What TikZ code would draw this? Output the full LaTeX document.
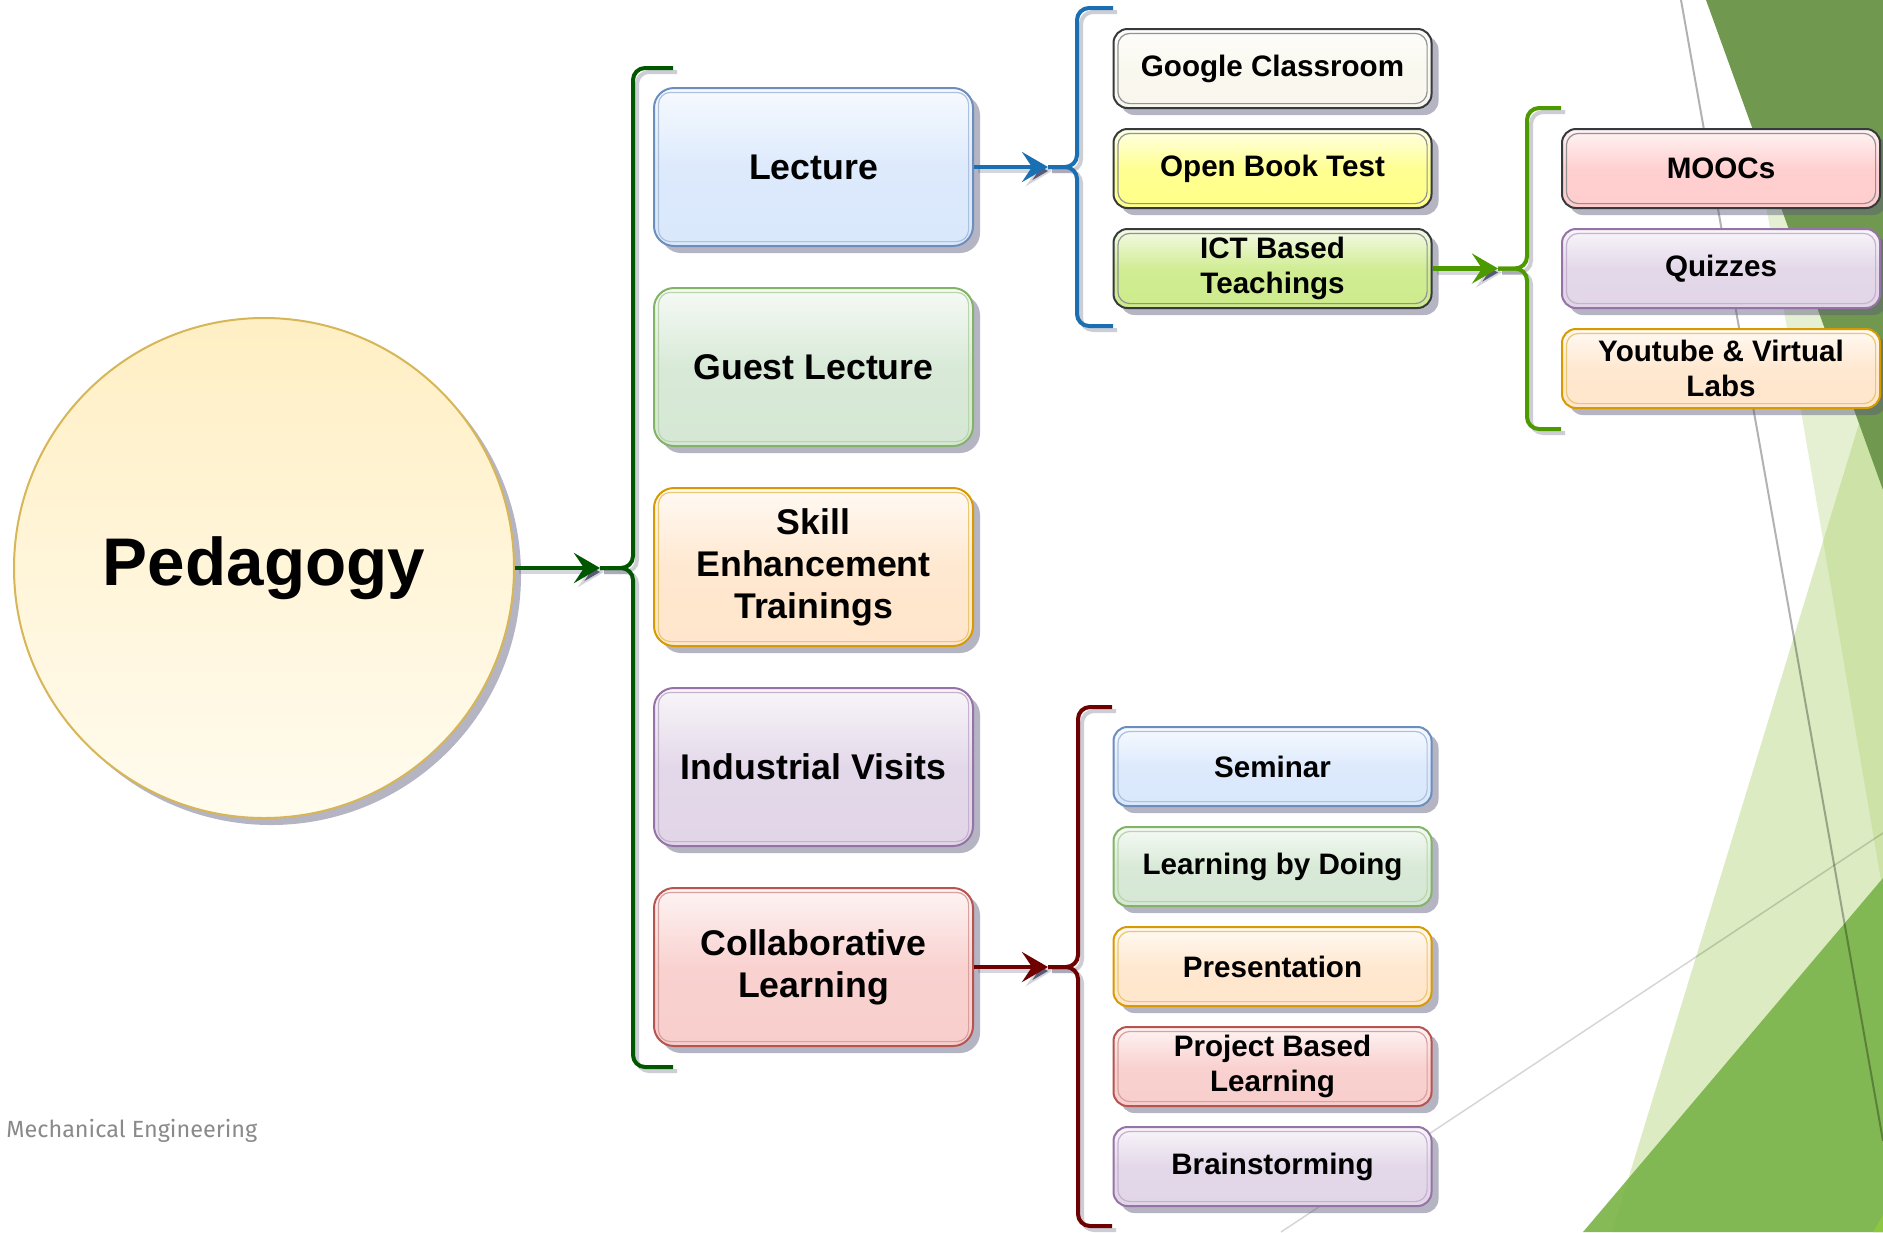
\documentclass[tikz,border=0pt]{standalone}
\usepackage{fontspec}
\setmainfont{Liberation Sans}
\newfontfamily\footfont{Fira Sans}
\usetikzlibrary{arrows.meta,shadows,positioning}

\definecolor{bluefill}{HTML}{DAE8FC}
\definecolor{bluedraw}{HTML}{6C8EBF}
\definecolor{greenfill}{HTML}{D5E8D4}
\definecolor{greendraw}{HTML}{82B366}
\definecolor{orangefill}{HTML}{FFE6CC}
\definecolor{orangedraw}{HTML}{D79B00}
\definecolor{purplefill}{HTML}{E1D5E7}
\definecolor{purpledraw}{HTML}{9673A6}
\definecolor{redfill}{HTML}{F8CECC}
\definecolor{reddraw}{HTML}{B85450}
\definecolor{paperfill}{HTML}{F9F7ED}
\definecolor{lemonfill}{HTML}{FFFF88}
\definecolor{limefill}{HTML}{CDEB8B}
\definecolor{pinkfill}{HTML}{FFCCCC}
\definecolor{darkdraw}{HTML}{36393D}
\definecolor{pedtop}{HTML}{FFEFC4}
\definecolor{pedbot}{HTML}{FFFBEE}
\definecolor{peddraw}{HTML}{D6B656}
\definecolor{maingreen}{HTML}{005700}
\definecolor{lecblue}{HTML}{1A6FB2}
\definecolor{ictgreen}{HTML}{4D9900}
\definecolor{colred}{HTML}{6F0000}
\definecolor{shadowgray}{HTML}{5A5A78}
\definecolor{footgray}{HTML}{8A8A8A}
\definecolor{facetdark}{HTML}{70994F}
\definecolor{facetmid}{HTML}{7CB54B}
\definecolor{facetlight}{HTML}{A5CC5F}
\definecolor{facetlime}{HTML}{8DC63F}

\begin{document}
\begin{tikzpicture}[x=0.5pt, y=-0.5pt,
glass/.style 2 args = {draw=#2, line width=1pt, top color=#1!22!white, bottom color=#1, middle color=#1!92!white,
  drop shadow={shadow xshift=3.5pt, shadow yshift=-3.5pt, opacity=.45, fill=shadowgray},
  path picture={\draw[#2!55!white, line width=.6pt, rounded corners=6pt]
    ([shift={(2.2pt,-2.2pt)}]path picture bounding box.north west) rectangle
    ([shift={(-2.2pt,2.2pt)}]path picture bounding box.south east);}},
big box/.style 2 args = {glass={#1}{#2}, rounded corners=10pt, minimum width=159.5pt, minimum height=79pt,
  align=center, font=\bfseries\fontsize{17.85}{21}\selectfont},
small box/.style 2 args = {glass={#1}{#2}, rounded corners=7pt, minimum width=159pt, minimum height=39.5pt,
  align=center, font=\bfseries\fontsize{14.8}{17.5}\selectfont},
cbrace/.style = {draw=#1, line width=2pt, rounded corners=6pt,
  preaction={draw=shadowgray, draw opacity=.3, line width=2pt, transform canvas={shift={(2pt,-2pt)}}}},
link/.style = {draw=#1, line width=2.2pt, -{Stealth[length=13pt, width=15pt, inset=5pt]},
  preaction={draw=shadowgray, draw opacity=.25, line width=2pt, transform canvas={shift={(2pt,-2pt)}}}}]

\fill[white] (0,0) rectangle (1883,1232);
\useasboundingbox (0,0) rectangle (1883,1232);

\fill[facetlight, opacity=.38] (1883,345) -- (1612,1232) -- (1883,1232) -- cycle;
\fill[facetlight, opacity=.28] (1731,0) -- (1883,892) -- (1883,0) -- cycle;
\fill[facetdark] (1706,0) -- (1883,490) -- (1883,0) -- cycle;
\fill[facetmid, opacity=.93] (1883,878) -- (1583,1232) -- (1883,1232) -- cycle;
\fill[facetlime] (1873,1232) -- (1883,1215) -- (1883,1232) -- cycle;
\draw[black, opacity=.3, line width=1pt] (1681,0) -- (1883,1141);
\draw[black, opacity=.16, line width=.75pt] (1281,1232) -- (1883,833);

\node[anchor=base west, inner xsep=0pt, text=footgray, font=\footfont\fontsize{11.7}{14}\selectfont] (foot) at (6,1137) {Mechanical Engineering};

\node[circle, draw=peddraw, line width=1pt, top color=pedtop, bottom color=pedbot, minimum size=250pt,
  drop shadow={shadow xshift=3.5pt, shadow yshift=-3.5pt, opacity=.45, fill=shadowgray},
  font=\bfseries\fontsize{33.7}{40}\selectfont] (ped) at (264,568) {Pedagogy};

\node[big box={bluefill}{bluedraw}] (lecture) at (813.5,167) {Lecture};
\node[big box={greenfill}{greendraw}] (guest) at (813.5,367) {Guest Lecture};
\node[big box={orangefill}{orangedraw}] (skill) at (813.5,567) {Skill\\Enhancement\\Trainings};
\node[big box={purplefill}{purpledraw}] (visits) at (813.5,767) {Industrial Visits};
\node[big box={redfill}{reddraw}] (collab) at (813.5,967) {Collaborative\\Learning};

\node[small box={paperfill}{darkdraw}] (google) at (1272.5,68.5) {Google Classroom};
\node[small box={lemonfill}{darkdraw}] (openbook) at (1272.5,168.5) {Open Book Test};
\node[small box={limefill}{darkdraw}] (ict) at (1272.5,268.5) {ICT Based\\Teachings};

\node[small box={pinkfill}{darkdraw}] (moocs) at (1721,168.5) {MOOCs};
\node[small box={purplefill}{purpledraw}] (quizzes) at (1721,268.5) {Quizzes};
\node[small box={orangefill}{orangedraw}] (youtube) at (1721,368.5) {Youtube \& Virtual\\Labs};

\node[small box={bluefill}{bluedraw}] (seminar) at (1272.5,766.5) {Seminar};
\node[small box={greenfill}{greendraw}] (doing) at (1272.5,866.5) {Learning by Doing};
\node[small box={orangefill}{orangedraw}] (present) at (1272.5,966.5) {Presentation};
\node[small box={redfill}{reddraw}] (project) at (1272.5,1066.5) {Project Based\\Learning};
\node[small box={purplefill}{purpledraw}] (brainstorm) at (1272.5,1166.5) {Brainstorming};

\coordinate (tipped) at (600,568);
\coordinate (tiplec) at (1048,167);
\coordinate (tipict) at (1498,268.5);
\coordinate (tipcol) at (1048,967);

\draw[cbrace=maingreen] (673,68) -- (633,68) -- (633,568) -- (tipped);
\draw[cbrace=maingreen] (tipped) -- (633,568) -- (633,1067) -- (673,1067);
\draw[cbrace=lecblue] (1113,8) -- (1077,8) -- (1077,167) -- (tiplec);
\draw[cbrace=lecblue] (tiplec) -- (1077,167) -- (1077,326) -- (1113,326);
\draw[cbrace=ictgreen] (1561,108) -- (1527,108) -- (1527,268.5) -- (tipict);
\draw[cbrace=ictgreen] (tipict) -- (1527,268.5) -- (1527,429) -- (1561,429);
\draw[cbrace=colred] (1112,707) -- (1078,707) -- (1078,967) -- (tipcol);
\draw[cbrace=colred] (tipcol) -- (1078,967) -- (1078,1226) -- (1112,1226);

\draw[link=maingreen] (ped) -- (tipped);
\draw[link=lecblue] (lecture) -- (tiplec);
\draw[link=ictgreen] (ict) -- (tipict);
\draw[link=colred] (collab) -- (tipcol);
\end{tikzpicture}
\end{document}
